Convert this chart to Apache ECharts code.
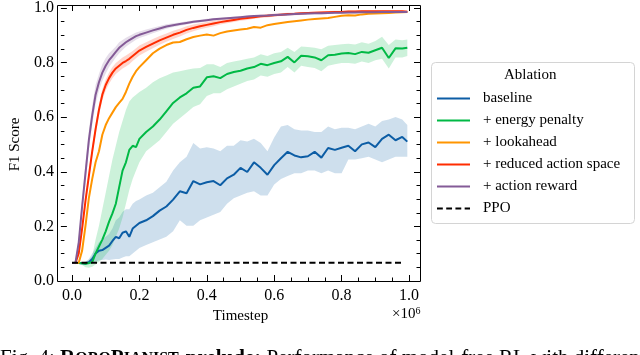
<!DOCTYPE html>
<html lang="en">

<head>
    <meta charset="UTF-8">
    <title>Ablation</title>
    <script src="https://cdn.jsdelivr.net/npm/echarts@6/dist/echarts.min.js"></script>
    <style>
        body { margin: 0; background: #fff; }
    </style>
</head>

<body>
    <div id="main" style="width: 640px;height:355px;"></div>

    <script type="text/javascript">
        // Timestep (x 1e6)
        const xs = [0, 0.01, 0.02, 0.03, 0.04, 0.05, 0.06, 0.07, 0.08, 0.09, 0.10,
            0.11, 0.12, 0.13, 0.14, 0.15, 0.16, 0.17, 0.18, 0.19, 0.20,
            0.22, 0.24, 0.26, 0.28, 0.30, 0.32, 0.34, 0.36, 0.38, 0.40,
            0.42, 0.44, 0.46, 0.48, 0.50, 0.52, 0.54, 0.56, 0.58, 0.60,
            0.62, 0.64, 0.66, 0.68, 0.70, 0.72, 0.74, 0.76, 0.78, 0.80,
            0.82, 0.84, 0.86, 0.88, 0.90, 0.92, 0.94, 0.96, 0.98, 0.995];

        // baseline
        const baseline = [0.065, 0.065, 0.065, 0.064, 0.063, 0.068, 0.08, 0.10, 0.11, 0.112, 0.12,
            0.128, 0.145, 0.16, 0.155, 0.175, 0.18, 0.16, 0.19, 0.2, 0.21,
            0.22, 0.235, 0.255, 0.27, 0.295, 0.325, 0.318, 0.362, 0.35, 0.358,
            0.362, 0.347, 0.372, 0.385, 0.41, 0.395, 0.43, 0.41, 0.385, 0.42,
            0.445, 0.468, 0.455, 0.448, 0.452, 0.468, 0.447, 0.482, 0.475, 0.483,
            0.49, 0.47, 0.495, 0.502, 0.485, 0.515, 0.53, 0.51, 0.522, 0.505];
        const baselineHi = [0.066, 0.066, 0.066, 0.067, 0.07, 0.08, 0.1, 0.12, 0.14, 0.15, 0.16,
            0.17, 0.19, 0.22, 0.23, 0.25, 0.26, 0.26, 0.28, 0.29, 0.295,
            0.31, 0.32, 0.34, 0.36, 0.40, 0.43, 0.45, 0.5, 0.48, 0.485,
            0.48, 0.47, 0.49, 0.49, 0.51, 0.505, 0.515, 0.50, 0.47, 0.52,
            0.56, 0.565, 0.55, 0.545, 0.545, 0.54, 0.54, 0.56, 0.55, 0.555,
            0.555, 0.55, 0.56, 0.57, 0.56, 0.58, 0.585, 0.594, 0.585, 0.565];
        const baselineLo = [0.064, 0.064, 0.064, 0.062, 0.06, 0.06, 0.065, 0.07, 0.075, 0.076, 0.078,
            0.076, 0.078, 0.08, 0.08, 0.085, 0.09, 0.09, 0.1, 0.11, 0.12,
            0.13, 0.14, 0.15, 0.16, 0.18, 0.22, 0.2, 0.2, 0.22, 0.23,
            0.24, 0.25, 0.28, 0.3, 0.31, 0.32, 0.325, 0.31, 0.31, 0.35,
            0.37, 0.38, 0.39, 0.39, 0.4, 0.4, 0.39, 0.4, 0.39, 0.39,
            0.44, 0.44, 0.445, 0.45, 0.44, 0.43, 0.44, 0.45, 0.45, 0.45];

        // + energy penalty
        const energy = [0.065, 0.065, 0.065, 0.064, 0.062, 0.065, 0.068, 0.10, 0.125, 0.15, 0.18,
            0.215, 0.245, 0.28, 0.34, 0.40, 0.43, 0.475, 0.49, 0.485, 0.515,
            0.54, 0.56, 0.585, 0.615, 0.645, 0.665, 0.68, 0.70, 0.705, 0.738,
            0.742, 0.735, 0.75, 0.757, 0.762, 0.77, 0.775, 0.787, 0.782, 0.79,
            0.796, 0.812, 0.792, 0.816, 0.814, 0.81, 0.80, 0.818, 0.82, 0.824,
            0.826, 0.822, 0.83, 0.827, 0.836, 0.845, 0.808, 0.843, 0.842, 0.845];
        const energyHi = [0.065, 0.066, 0.067, 0.068, 0.07, 0.075, 0.09, 0.15, 0.20, 0.26, 0.32,
            0.38, 0.44, 0.49, 0.54, 0.58, 0.62, 0.65, 0.665, 0.675, 0.685,
            0.70, 0.72, 0.735, 0.745, 0.755, 0.76, 0.765, 0.77, 0.772, 0.785,
            0.785, 0.775, 0.79, 0.795, 0.80, 0.805, 0.81, 0.822, 0.815, 0.825,
            0.83, 0.845, 0.83, 0.85, 0.848, 0.845, 0.84, 0.852, 0.855, 0.858,
            0.86, 0.857, 0.865, 0.86, 0.87, 0.885, 0.855, 0.875, 0.872, 0.875];
        const energyLo = [0.065, 0.064, 0.062, 0.058, 0.05, 0.048, 0.052, 0.06, 0.07, 0.08, 0.095,
            0.11, 0.13, 0.16, 0.19, 0.23, 0.28, 0.33, 0.37, 0.40, 0.43,
            0.47, 0.49, 0.51, 0.54, 0.57, 0.59, 0.61, 0.63, 0.64, 0.67,
            0.68, 0.68, 0.695, 0.705, 0.715, 0.725, 0.73, 0.745, 0.74, 0.75,
            0.755, 0.775, 0.755, 0.78, 0.775, 0.772, 0.76, 0.78, 0.785, 0.79,
            0.79, 0.787, 0.795, 0.79, 0.80, 0.805, 0.77, 0.81, 0.81, 0.815];

        // + lookahead
        const lookahead = [0.065, 0.065, 0.066, 0.11, 0.20, 0.30, 0.37, 0.43, 0.47, 0.53, 0.565,
            0.59, 0.61, 0.63, 0.645, 0.66, 0.685, 0.715, 0.74, 0.76, 0.775,
            0.80, 0.825, 0.842, 0.855, 0.864, 0.866, 0.876, 0.884, 0.889, 0.893,
            0.889, 0.898, 0.904, 0.908, 0.911, 0.914, 0.92, 0.918, 0.927, 0.931,
            0.935, 0.938, 0.941, 0.944, 0.947, 0.949, 0.951, 0.953, 0.957, 0.961,
            0.963, 0.962, 0.966, 0.968, 0.969, 0.97, 0.971, 0.973, 0.974, 0.975];

        // + reduced action space
        const reduced = [0.065, 0.065, 0.10, 0.19, 0.29, 0.38, 0.47, 0.55, 0.62, 0.675, 0.71,
            0.735, 0.755, 0.77, 0.78, 0.79, 0.797, 0.805, 0.815, 0.825, 0.835,
            0.848, 0.86, 0.872, 0.882, 0.892, 0.90, 0.91, 0.917, 0.923, 0.928,
            0.933, 0.938, 0.942, 0.946, 0.95, 0.953, 0.956, 0.959, 0.961, 0.963,
            0.965, 0.967, 0.968, 0.97, 0.971, 0.972, 0.973, 0.974, 0.975, 0.975,
            0.976, 0.976, 0.977, 0.977, 0.977, 0.977, 0.977, 0.977, 0.977, 0.976];
        const reducedStd = [0, 0, 0.005, 0.01, 0.015, 0.02, 0.02, 0.02, 0.02, 0.02, 0.02,
            0.02, 0.02, 0.02, 0.02, 0.02, 0.02, 0.02, 0.018, 0.018, 0.018,
            0.017, 0.017, 0.016, 0.015, 0.015, 0.014, 0.013, 0.012, 0.011, 0.01,
            0.01, 0.009, 0.008, 0.008, 0.007, 0.007, 0.006, 0.006, 0.006, 0.005,
            0.005, 0.005, 0.005, 0.004, 0.004, 0.004, 0.004, 0.004, 0.004, 0.004,
            0.004, 0.004, 0.004, 0.004, 0.004, 0.004, 0.004, 0.004, 0.004, 0.004];

        // + action reward
        const actionReward = [0.065, 0.065, 0.14, 0.27, 0.39, 0.51, 0.60, 0.675, 0.72, 0.755, 0.78,
            0.80, 0.815, 0.83, 0.845, 0.855, 0.865, 0.873, 0.88, 0.887, 0.892,
            0.90, 0.908, 0.915, 0.922, 0.927, 0.931, 0.935, 0.939, 0.942, 0.945,
            0.948, 0.95, 0.952, 0.954, 0.956, 0.958, 0.96, 0.961, 0.962, 0.964,
            0.965, 0.966, 0.967, 0.968, 0.969, 0.97, 0.97, 0.971, 0.972, 0.972,
            0.973, 0.973, 0.974, 0.974, 0.974, 0.975, 0.975, 0.975, 0.975, 0.975];
        const actionRewardStd = [0, 0.005, 0.02, 0.03, 0.035, 0.035, 0.035, 0.035, 0.03, 0.03, 0.028,
            0.025, 0.022, 0.02, 0.02, 0.018, 0.016, 0.015, 0.014, 0.013, 0.012,
            0.011, 0.01, 0.009, 0.008, 0.007, 0.006, 0.006, 0.005, 0.005, 0.005,
            0.005, 0.004, 0.004, 0.004, 0.004, 0.004, 0.004, 0.004, 0.004, 0.004,
            0.004, 0.004, 0.004, 0.004, 0.004, 0.004, 0.004, 0.004, 0.004, 0.004,
            0.004, 0.004, 0.004, 0.004, 0.004, 0.004, 0.004, 0.004, 0.004, 0.004];

        // PPO
        const ppoX = [0, 0.98];
        const ppoY = [0.066, 0.066];

        const names = ['baseline', '+ energy penalty', '+ lookahead', '+ reduced action space', '+ action reward', 'PPO'];
        const colors = ['#0C5DA5', '#00B945', '#FF9500', '#FF2C00', '#845B97', '#000000'];

        const font = 'Liberation Serif';

        let myChart = echarts.init(document.getElementById('main'));

        function pairs(x, y) {
            return x.map((v, i) => [v, y[i]]);
        }

        // shaded band drawn as one polygon through the axis scales
        function band(lo, hi, color) {
            return {
                type: 'custom', silent: true, z: 1, clip: true,
                xAxisIndex: 1, yAxisIndex: 2,
                data: xs.map((x, i) => [x, lo[i], hi[i]]),
                encode: { x: 0, y: [1, 2] },
                renderItem: function (params, api) {
                    if (params.dataIndexInside !== 0) return;
                    let top = [], bot = [];
                    for (let j = 0; j < params.dataInsideLength; j++) {
                        top.push(api.coord([api.value(0, j), api.value(2, j)]));
                        bot.push(api.coord([api.value(0, j), api.value(1, j)]));
                    }
                    return {
                        type: 'polygon',
                        shape: { points: top.concat(bot.reverse()) },
                        style: { fill: color, opacity: 0.2 }
                    };
                }
            };
        }

        function line(i, y, x) {
            return {
                name: names[i], type: 'line', symbol: 'none', z: 3 + i,
                xAxisIndex: 1, yAxisIndex: 2,
                data: pairs(x || xs, y),
                itemStyle: { color: colors[i] },
                lineStyle: { color: colors[i], width: 2, type: i === 5 ? [6, 3.5] : 'solid' }
            };
        }

        let series = [
            band(baselineLo, baselineHi, colors[0]),
            band(energyLo, energyHi, colors[1]),
            band(reduced.map((v, i) => v - reducedStd[i]), reduced.map((v, i) => v + reducedStd[i]), colors[3]),
            band(actionReward.map((v, i) => v - actionRewardStd[i]), actionReward.map((v, i) => v + actionRewardStd[i]), colors[4]),
            line(0, baseline), line(1, energy), line(2, lookahead), line(3, reduced), line(4, actionReward), line(5, ppoY, ppoX)
        ];

        const solidIcon = 'path://M0,0H34V2H0Z';
        const dashIcon = 'path://M0,0H6V2H0Z M9.5,0H15.5V2H9.5Z M19,0H25V2H19Z M28.5,0H34V2H28.5Z';

        const tickFmt = v => v.toFixed(1);

        // axis with inward major/minor ticks, like the matplotlib frame
        function tickAxis(pos, grid, labels) {
            return {
                type: 'value', min: 0, max: 1, interval: 0.2, position: pos, gridIndex: grid,
                axisLine: { show: false },
                axisTick: { inside: true, length: 6, lineStyle: { color: '#000' } },
                minorTick: { show: true, splitNumber: 4, length: 3.5, lineStyle: { color: '#000' } },
                splitLine: { show: false },
                axisLabel: labels ? { formatter: tickFmt, margin: 7, fontFamily: font, fontSize: 16, color: '#000' } : { show: false }
            };
        }

        // grid 0: outer frame (y ticks on the spines); grid 1: data area (x ticks)
        let xHidden = { type: 'value', min: 0, max: 1, gridIndex: 0, show: false };
        let xBottom = tickAxis('bottom', 1, true);
        xBottom.name = 'Timestep';
        xBottom.nameLocation = 'middle';
        xBottom.nameGap = 26;
        xBottom.nameTextStyle = { fontFamily: font, fontSize: 15, color: '#000' };

        let yLeft = tickAxis('left', 0, true);
        yLeft.name = 'F1 Score';
        yLeft.nameLocation = 'middle';
        yLeft.nameGap = 35;
        yLeft.nameTextStyle = { fontFamily: font, fontSize: 15, color: '#000' };
        let yHidden = { type: 'value', min: 0, max: 1, gridIndex: 1, show: false };

        let options = {
            animation: false,
            grid: [
                { left: 57, right: 220, top: 5, bottom: 74 },
                { left: 72, right: 231, top: 5, bottom: 74 }
            ],
            xAxis: [xHidden, xBottom, tickAxis('top', 1, false)],
            yAxis: [yLeft, tickAxis('right', 0, false), yHidden],
            legend: {
                data: names.map((n, i) => ({ name: n, icon: i === 5 ? dashIcon : solidIcon })),
                orient: 'vertical', left: 432, top: 86,
                itemWidth: 33, itemHeight: 2, itemGap: 7,
                textStyle: { fontFamily: font, fontSize: 15, color: '#000', padding: [0, 0, 0, 8] }
            },
            graphic: [{
                type: 'rect', silent: true, z: 10,
                shape: { x: 57.5, y: 5.5, width: 363, height: 276 },
                style: { fill: 'none', stroke: '#000', lineWidth: 1 }
            }, {
                type: 'rect', silent: true,
                shape: { x: 431.5, y: 62.5, width: 203, height: 161, r: 4 },
                style: { fill: '#fff', stroke: '#d4d4d4', lineWidth: 1 }
            }, {
                type: 'text', left: 504, top: 68,
                style: { text: 'Ablation', font: '15px "Liberation Serif"', fill: '#000' }
            }, {
                type: 'text', left: 392, top: 306,
                style: {
                    text: '×10{s|6}', font: '15px "Liberation Serif"', fill: '#000',
                    rich: { s: { fontSize: 10, fontFamily: font, verticalAlign: 'top', padding: [0, 0, 6, 0] } }
                }
            }, {
                type: 'text', left: 0, top: 348,
                style: {
                    text: 'Fig. 4: {b|R}{s|OBO}{b|P}{s|IANIST}{b|-prelude:} Performance of model-free RL with different',
                    font: '21px "Liberation Serif"', fill: '#000',
                    rich: {
                        b: { fontFamily: font, fontSize: 21, fontWeight: 'bold' },
                        s: { fontFamily: font, fontSize: 16, fontWeight: 'bold' }
                    }
                }
            }],
            series: series
        };

        myChart.setOption(options);
    </script>
</body>

</html>
